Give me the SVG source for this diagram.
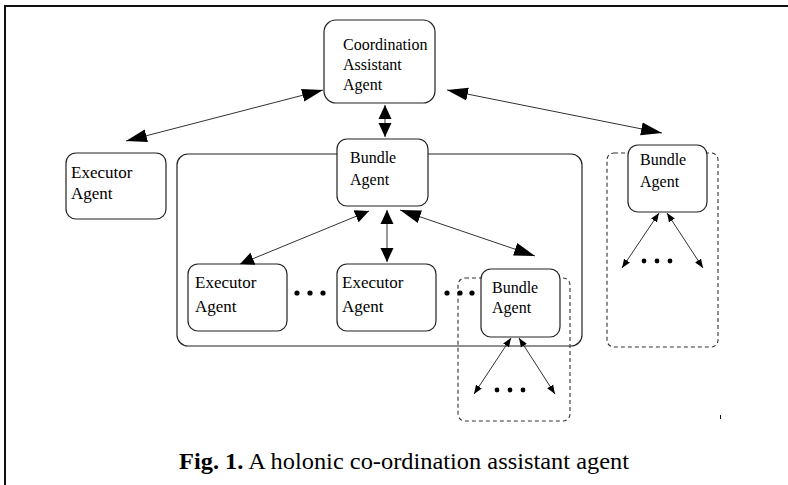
<svg xmlns="http://www.w3.org/2000/svg" width="788" height="485" viewBox="0 0 788 485">
<style>
.box{fill:#fff;stroke:#222;stroke-width:1.2}
.cont{fill:none;stroke:#222;stroke-width:1.2}
.dash{fill:none;stroke:#333;stroke-width:1.1;stroke-dasharray:4 3}
.t{font-family:"Liberation Serif","Times New Roman",serif;font-size:16px;fill:#000}
.te{font-family:"Liberation Serif","Times New Roman",serif;font-size:17px;fill:#000}
.ln{stroke:#333;stroke-width:1;fill:none}
.dot{fill:#000}
</style>
<defs>
<marker id="aL" markerUnits="userSpaceOnUse" markerWidth="21" markerHeight="14" refX="21" refY="7" orient="auto-start-reverse"><path d="M0,0.5 L21,7 L0,13.5 z" fill="#000"/></marker>
<marker id="aM" markerUnits="userSpaceOnUse" markerWidth="14" markerHeight="14" refX="14" refY="7" orient="auto-start-reverse"><path d="M0,0.5 L14,7 L0,13.5 z" fill="#000"/></marker>
<marker id="aS" markerUnits="userSpaceOnUse" markerWidth="9" markerHeight="8" refX="9" refY="4" orient="auto-start-reverse"><path d="M0,0.5 L9,4 L0,7.5 z" fill="#000"/></marker>
</defs>
<rect width="788" height="485" fill="#fff"/>
<g id="frame">
<line x1="4" y1="6" x2="788" y2="6" stroke="#111" stroke-width="2"/>
<line x1="5" y1="5" x2="5" y2="485" stroke="#111" stroke-width="2"/>
<line x1="720.5" y1="415" x2="720.5" y2="419" stroke="#111" stroke-width="1"/>
</g>
<g id="containers">
<rect id="holon-main" class="cont" x="177" y="154" width="405" height="192" rx="11"/>
<rect id="holon-inner" class="dash" x="458" y="278" width="112" height="143" rx="7"/>
<rect id="holon-right" class="dash" x="607" y="153" width="111" height="194" rx="7"/>
</g>
<g id="coordination">
<rect class="box" x="324" y="20" width="111" height="83" rx="12"/>
<text class="t" x="343" y="50">Coordination</text>
<text class="t" x="343" y="70">Assistant</text>
<text class="t" x="343" y="90">Agent</text>
</g>
<g id="executor-left">
<rect class="box" x="66" y="153" width="100" height="66" rx="10"/>
<text class="te" x="71" y="178">Executor</text>
<text class="te" x="71" y="199">Agent</text>
</g>
<g id="bundle-main">
<rect class="box" x="337" y="139" width="91" height="67" rx="10"/>
<text class="t" x="350" y="163">Bundle</text>
<text class="t" x="350" y="185">Agent</text>
</g>
<g id="executor-1">
<rect class="box" x="188" y="264" width="99" height="67" rx="10"/>
<text class="te" x="195" y="288">Executor</text>
<text class="te" x="195" y="312">Agent</text>
</g>
<g id="executor-2">
<rect class="box" x="337" y="264" width="99" height="67" rx="10"/>
<text class="te" x="342" y="288">Executor</text>
<text class="te" x="342" y="312">Agent</text>
</g>
<g id="bundle-inner">
<rect class="box" x="481" y="269" width="79" height="68" rx="10"/>
<text class="t" x="492" y="293">Bundle</text>
<text class="t" x="492" y="313">Agent</text>
</g>
<g id="bundle-right">
<rect class="box" x="628" y="145" width="79" height="67" rx="10"/>
<text class="t" x="640" y="165">Bundle</text>
<text class="t" x="640" y="187">Agent</text>
</g>
<g id="ellipses">
<circle class="dot" cx="297" cy="293" r="2.6"/><circle class="dot" cx="310" cy="293" r="2.6"/><circle class="dot" cx="323" cy="293" r="2.6"/>
<circle class="dot" cx="447" cy="293" r="2.6"/><circle class="dot" cx="460" cy="293" r="2.6"/><circle class="dot" cx="472" cy="293" r="2.6"/>
<circle class="dot" cx="497" cy="390" r="2.4"/><circle class="dot" cx="510" cy="390" r="2.4"/><circle class="dot" cx="523" cy="390" r="2.4"/>
<circle class="dot" cx="644" cy="261" r="2.4"/><circle class="dot" cx="657" cy="261" r="2.4"/><circle class="dot" cx="670" cy="261" r="2.4"/>
</g>
<g id="connectors">
<line class="ln" x1="323" y1="90" x2="126" y2="141" marker-start="url(#aL)" marker-end="url(#aL)"/>
<line class="ln" x1="447" y1="90" x2="662" y2="133" marker-start="url(#aL)" marker-end="url(#aL)"/>
<line class="ln" x1="385" y1="105" x2="385" y2="137" marker-start="url(#aM)" marker-end="url(#aM)"/>
<line class="ln" x1="369" y1="211" x2="240" y2="264" marker-start="url(#aM)" marker-end="url(#aM)"/>
<line class="ln" x1="387" y1="210" x2="387" y2="262" marker-start="url(#aM)" marker-end="url(#aM)"/>
<line class="ln" x1="400" y1="210" x2="535" y2="256" marker-start="url(#aL)" marker-end="url(#aL)"/>
<line class="ln" x1="511" y1="338" x2="474" y2="394" marker-start="url(#aS)" marker-end="url(#aS)"/>
<line class="ln" x1="519" y1="338" x2="555" y2="394" marker-start="url(#aS)" marker-end="url(#aS)"/>
<line class="ln" x1="659" y1="213" x2="622" y2="268" marker-start="url(#aS)" marker-end="url(#aS)"/>
<line class="ln" x1="667" y1="213" x2="703" y2="268" marker-start="url(#aS)" marker-end="url(#aS)"/>
</g>
<g id="caption">
<text x="179" y="469" font-family="Liberation Serif, Times New Roman, serif" font-size="23" fill="#000" textLength="450" lengthAdjust="spacingAndGlyphs"><tspan font-weight="bold">Fig. 1.</tspan> A holonic co-ordination assistant agent</text>
</g>
</svg>
